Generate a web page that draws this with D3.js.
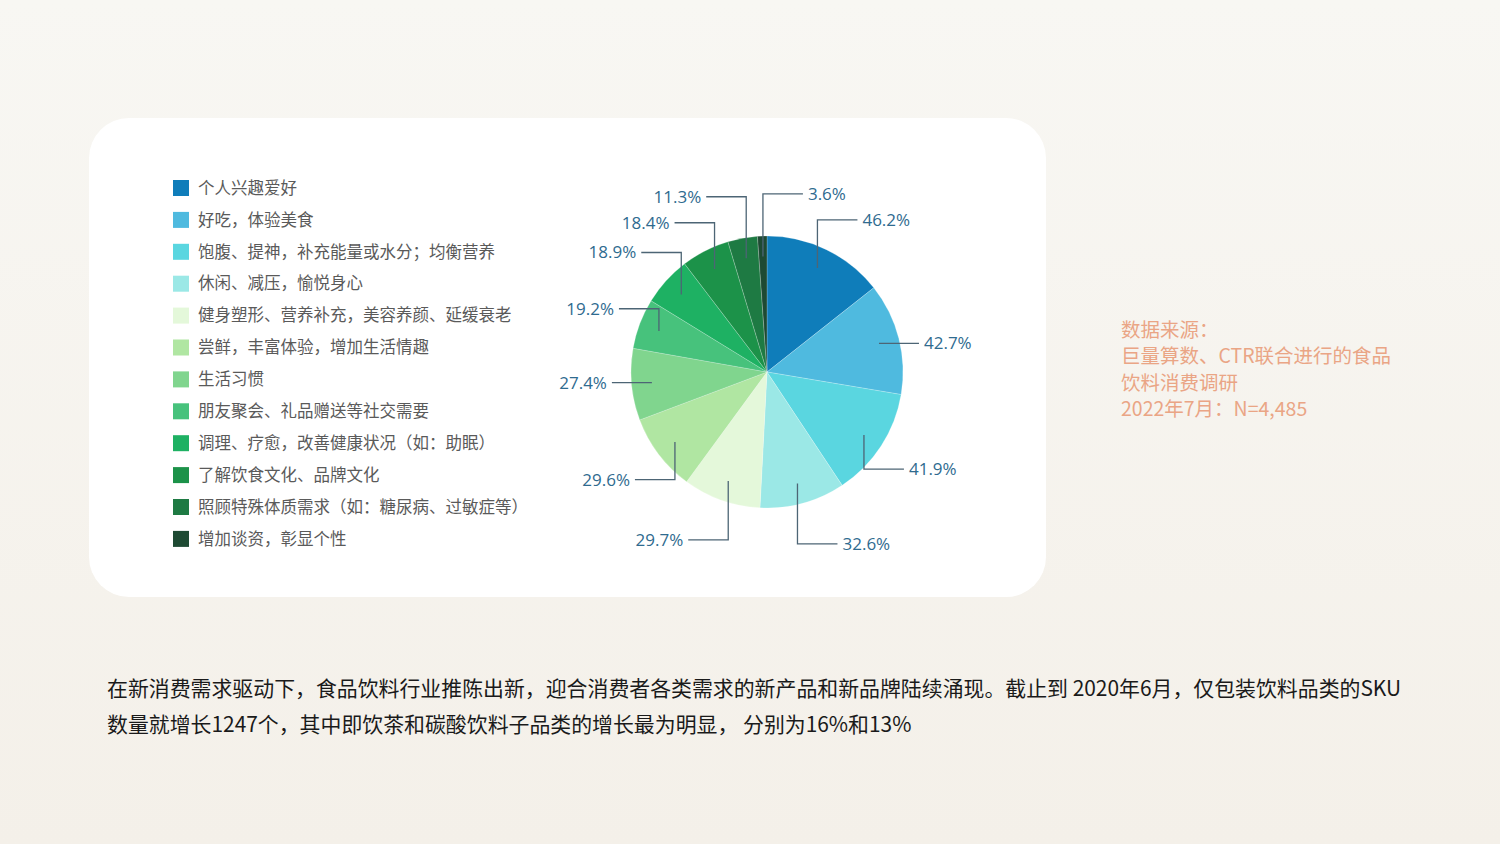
<!DOCTYPE html>
<html>
<head>
<meta charset="utf-8">
<script src="https://cdn.jsdelivr.net/npm/d3@7"></script>
<style>
  html, body { margin: 0; padding: 0; }
  body { width: 1500px; height: 844px; overflow: hidden; }
</style>
</head>
<body>
<div id="chart"></div>
<script>
// survey categories and share of respondents (%)
var categories = [
  "个人兴趣爱好",
  "好吃，体验美食",
  "饱腹、提神，补充能量或水分；均衡营养",
  "休闲、减压，愉悦身心",
  "健身塑形、营养补充，美容养颜、延缓衰老",
  "尝鲜，丰富体验，增加生活情趣",
  "生活习惯",
  "朋友聚会、礼品赠送等社交需要",
  "调理、疗愈，改善健康状况（如：助眠）",
  "了解饮食文化、品牌文化",
  "照顾特殊体质需求（如：糖尿病、过敏症等）",
  "增加谈资，彰显个性"
];
var values = [46.2, 42.7, 41.9, 32.6, 29.7, 29.6, 27.4, 19.2, 18.9, 18.4, 11.3, 3.6];
var colors = ["#0f7dba", "#4fbadf", "#5ad6e0", "#9be8e6", "#e4f8da", "#b0e6a2",
              "#80d58e", "#47c27c", "#1eb163", "#1c9249", "#1e7a43", "#1e4a33"];

var sourceLines = ["数据来源：", "巨量算数、CTR联合进行的食品", "饮料消费调研", "2022年7月：N=4,485"];
var noteLines = [
  "在新消费需求驱动下，食品饮料行业推陈出新，迎合消费者各类需求的新产品和新品牌陆续涌现。截止到 2020年6月，仅包装饮料品类的SKU",
  "数量就增长1247个，其中即饮茶和碳酸饮料子品类的增长最为明显， 分别为16%和13%"
];

var W = 1500, H = 844;
var svg = d3.select("#chart").append("svg")
    .attr("width", W)
    .attr("height", H);

var defs = svg.append("defs");
var grad = defs.append("linearGradient")
    .attr("id", "bg").attr("x1", 0).attr("y1", 0).attr("x2", 0).attr("y2", 1);
grad.append("stop").attr("offset", "0%").attr("stop-color", "#f8f7f3");
grad.append("stop").attr("offset", "100%").attr("stop-color", "#f4f0e9");

svg.append("rect").attr("width", W).attr("height", H).attr("fill", "url(#bg)");

// white card
svg.append("rect")
    .attr("x", 89).attr("y", 118)
    .attr("width", 957).attr("height", 479)
    .attr("rx", 40).attr("ry", 40)
    .attr("fill", "#ffffff");

// legend
var legend = svg.append("g").attr("transform", "translate(173,188)");
var item = legend.selectAll("g")
    .data(categories)
    .enter().append("g")
    .attr("transform", function(d, i) { return "translate(0," + (i * 31.9) + ")"; });
item.append("rect")
    .attr("x", 0).attr("y", -8)
    .attr("width", 16).attr("height", 16)
    .attr("fill", function(d, i) { return colors[i]; });
item.append("text")
    .attr("x", 25).attr("dy", "0.35em")
    .attr("font-family", "Noto Sans CJK SC")
    .attr("font-size", "16.5px")
    .attr("fill", "#5a5a5a")
    .text(function(d) { return d; });

// pie
var cx = 767, cy = 372, R = 136;
var pie = d3.pie().sort(null).value(function(d) { return d; });
var arcs = pie(values);
var arc = d3.arc().innerRadius(0).outerRadius(R);

var g = svg.append("g").attr("transform", "translate(" + cx + "," + cy + ")");
g.selectAll("path.slice")
    .data(arcs)
    .enter().append("path")
    .attr("class", "slice")
    .attr("d", arc)
    .attr("fill", function(d, i) { return colors[i]; })
    .attr("stroke", "#ffffff")
    .attr("stroke-opacity", 0.35)
    .attr("stroke-width", 0.6);

// leader layout: anchor inside slice, elbow further out, then horizontal
var anchorR = R * 0.85, elbowR = R * 1.31, armLen = 40;
var labels = arcs.map(function(d, i) {
  var a = (d.startAngle + d.endAngle) / 2;
  var s = Math.sin(a), c = Math.cos(a);
  var ax = anchorR * s, ay = -anchorR * c;
  var y = Math.abs(c) < 0.3 ? ay : -elbowR * c;
  return { i: i, ax: ax, ay: ay, y: y, side: s >= -0.05 ? 1 : -1 };
});
// keep labels on the same side apart
[1, -1].forEach(function(side) {
  var list = labels.filter(function(l) { return l.side === side; })
      .sort(function(a, b) { return a.y - b.y; });
  for (var k = 1; k < list.length; k++) {
    if (list[k].y - list[k - 1].y < 26) list[k].y = list[k - 1].y + 26;
  }
});

var lab = g.selectAll("g.label")
    .data(labels)
    .enter().append("g")
    .attr("class", "label");
lab.append("polyline")
    .attr("points", function(l) {
      return [[l.ax, l.ay], [l.ax, l.y], [l.ax + l.side * armLen, l.y]].join(" ");
    })
    .attr("fill", "none")
    .attr("stroke", "#4d6575")
    .attr("stroke-width", 1.3);
lab.append("text")
    .attr("x", function(l) { return l.ax + l.side * (armLen + 5); })
    .attr("y", function(l) { return l.y; })
    .attr("dy", "0.35em")
    .attr("text-anchor", function(l) { return l.side > 0 ? "start" : "end"; })
    .attr("font-family", "Open Sans")
    .attr("font-size", "17px")
    .attr("fill", "#2f6b8f")
    .text(function(l) { return values[l.i].toFixed(1) + "%"; });

// source note
svg.append("g").selectAll("text")
    .data(sourceLines)
    .enter().append("text")
    .attr("x", 1121)
    .attr("y", function(d, i) { return 330 + i * 26.5; })
    .attr("dy", "0.35em")
    .attr("font-family", "Noto Sans CJK SC")
    .attr("font-size", "19.5px")
    .attr("fill", "#eaa585")
    .text(function(d) { return d; });

// body text
svg.append("g").selectAll("text")
    .data(noteLines)
    .enter().append("text")
    .attr("x", 107)
    .attr("y", function(d, i) { return 689 + i * 36; })
    .attr("dy", "0.35em")
    .attr("font-family", "Noto Sans CJK SC")
    .attr("font-size", "20.9px")
    .attr("fill", "#1a1a1a")
    .text(function(d) { return d; });
</script>
</body>
</html>
